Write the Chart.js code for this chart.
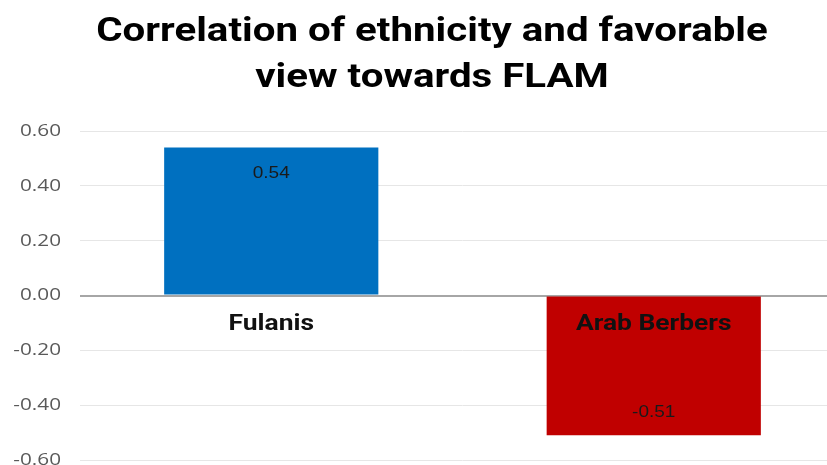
<!DOCTYPE html>
<html>
<head>
<meta charset="utf-8">
<script src="https://cdn.jsdelivr.net/npm/chart.js@4"></script>
<style>
  html, body { margin: 0; padding: 0; background: #fff; overflow: hidden; }
  #wrap { width: 845px; height: 465px; }
</style>
</head>
<body>
<div id="wrap"><canvas id="grafico" width="845" height="465"></canvas></div>
<script>
const categorias = ["Fulanis", "Arab Berbers"];
const valores = [0.54, -0.51];
const cores = ["#0070C0", "#C00000"];
const tituloLinhas = ["Correlation of ethnicity and favorable", "view towards FLAM"];

// o original parece esticado na horizontal, entao o texto e desenhado com escala em x
function textoEsticado(ctx, texto, x, y, fonte, cor, alinhamento, sx) {
    ctx.save();
    ctx.translate(x, y);
    ctx.scale(sx, 1);
    ctx.font = fonte;
    ctx.fillStyle = cor;
    ctx.textAlign = alinhamento;
    ctx.fillText(texto, 0, 0);
    ctx.restore();
}

const textosPlugin = {
    id: "textos",
    afterDraw(chart) {
        const ctx = chart.ctx;
        const escalaY = chart.scales.y;
        const y0 = escalaY.getPixelForValue(0);
        const meta = chart.getDatasetMeta(0);
        ctx.save();

        // titulo
        ctx.textBaseline = "alphabetic";
        tituloLinhas.forEach((linha, i) => {
            textoEsticado(ctx, linha, 432, 41 + i * 46, "bold 33px Roboto", "#000", "center", 1.22);
        });

        // rotulos do eixo y
        ctx.textBaseline = "middle";
        escalaY.ticks.forEach((t) => {
            const py = escalaY.getPixelForValue(t.value);
            textoEsticado(ctx, t.value.toFixed(2), 61, py, "17px 'Open Sans'", "#595959", "right", 1.22);
        });

        // categorias na linha do zero e valores dentro das barras
        meta.data.forEach((bar, i) => {
            textoEsticado(ctx, categorias[i], bar.x, y0 + 29, "bold 22px Roboto", "#111", "center", 1.2);
            const dy = valores[i] >= 0 ? 26 : -23;
            textoEsticado(ctx, valores[i].toFixed(2), bar.x, bar.y + dy, "17px 'Liberation Sans'", "#1a1a1a", "center", 1.12);
        });
        ctx.restore();
    },
};

new Chart(document.getElementById("grafico").getContext("2d"), {
    type: "bar",
    data: {
        labels: categorias,
        datasets: [
            {
                data: valores,
                backgroundColor: cores,
                barPercentage: 0.56,
                categoryPercentage: 1,
            },
        ],
    },
    options: {
        responsive: false,
        animation: false,
        layout: { padding: { top: 131, bottom: 5 } },
        plugins: {
            legend: { display: false },
            tooltip: { enabled: false },
            title: { display: false },
        },
        scales: {
            x: {
                display: false,
            },
            y: {
                min: -0.6,
                max: 0.6,
                ticks: {
                    stepSize: 0.2,
                    display: false,
                },
                grid: {
                    drawTicks: false,
                    color: (c) => (c.tick && Math.abs(c.tick.value) < 1e-9 ? "#a6a6a6" : "#e6e6e6"),
                    lineWidth: (c) => (c.tick && Math.abs(c.tick.value) < 1e-9 ? 2 : 1),
                },
                border: { display: false },
                afterFit: (scale) => { scale.width = 80; },
            },
        },
    },
    plugins: [textosPlugin],
});
</script>
</body>
</html>
